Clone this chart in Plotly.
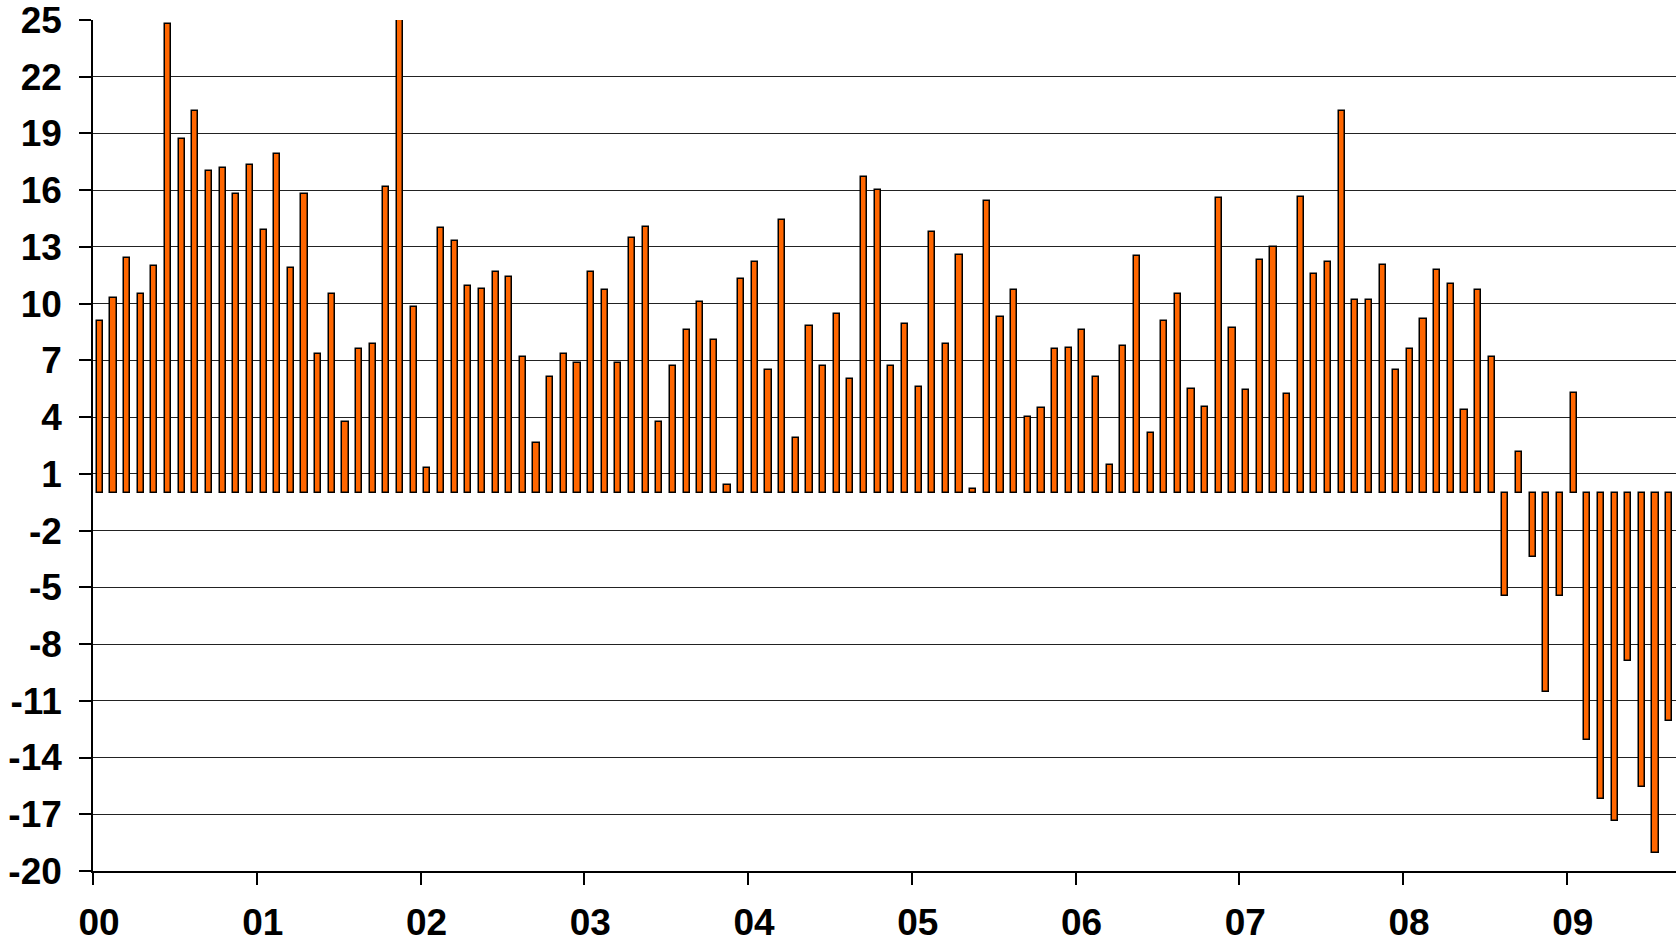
import plotly.graph_objects as go

# Year labels shown under the category axis (each year = 12 monthly bars)
years = ["00", "01", "02", "03", "04", "05", "06", "07", "08", "09"]

# Y-axis tick values and their labels (hyphen-minus, as in the reference)
y_ticks = [25, 22, 19, 16, 13, 10, 7, 4, 1, -2, -5, -8, -11, -14, -17, -20]
y_tick_labels = ["25", "22", "19", "16", "13", "10", "7", "4", "1",
                 "-2", "-5", "-8", "-11", "-14", "-17", "-20"]

# Monthly values, Jan 2000 .. Aug 2009
values_2000 = [9.1, 10.3, 12.4, 10.5, 12.0, 24.8, 18.7, 20.2, 17.0, 17.2, 15.8, 17.35]
values_2001 = [13.9, 17.9, 11.9, 15.8, 7.35, 10.5, 3.75, 7.6, 7.85, 16.15, 25.26, 9.85]
values_2002 = [1.3, 14.0, 13.3, 10.95, 10.8, 11.7, 11.4, 7.2, 2.65, 6.1, 7.35, 6.85]
values_2003 = [11.7, 10.7, 6.85, 13.45, 14.05, 3.75, 6.7, 8.6, 10.1, 8.1, 0.4, 11.3]
values_2004 = [12.2, 6.5, 14.4, 2.9, 8.8, 6.7, 9.45, 6.0, 16.7, 16.0, 6.7, 8.95]
values_2005 = [5.6, 13.8, 7.85, 12.55, 0.2, 15.45, 9.3, 10.7, 4.0, 4.5, 7.6, 7.65]
values_2006 = [8.6, 6.1, 1.45, 7.75, 12.5, 3.15, 9.1, 10.5, 5.5, 4.55, 15.6, 8.7]
values_2007 = [5.45, 12.3, 13.0, 5.2, 15.65, 11.55, 12.2, 20.2, 10.2, 10.2, 12.05, 6.5]
values_2008 = [7.6, 9.2, 11.8, 11.05, 4.4, 10.7, 7.2, -5.45, 2.15, -3.4, -10.55, -5.45]
values_2009 = [5.25, -13.05, -16.2, -17.35, -8.9, -15.55, -19.05, -12.05]

values = (values_2000 + values_2001 + values_2002 + values_2003 + values_2004
          + values_2005 + values_2006 + values_2007 + values_2008 + values_2009)

months_per_year = 12
x_index = list(range(len(values)))
year_ticks = [months_per_year * i - 0.5 for i in range(len(years))]

fig = go.Figure()
fig.add_trace(go.Bar(
    x=x_index,
    y=values,
    width=0.45,
    marker=dict(color="#FF6600", line=dict(color="#000000", width=1.5)),
    cliponaxis=False,
    hoverinfo="y",
))

tick_font = dict(family="Liberation Sans, Arial, sans-serif", size=37, color="#000000", weight="bold")

fig.update_layout(
    width=1676,
    height=944,
    margin=dict(l=93, r=0, t=20, b=73, pad=0),
    paper_bgcolor="#FFFFFF",
    plot_bgcolor="#FFFFFF",
    showlegend=False,
    bargap=0,
    xaxis=dict(
        automargin=False,
        range=[-0.5, len(values) - 0.5],
        tickmode="array",
        tickvals=year_ticks,
        ticktext=years,
        ticks="outside",
        ticklen=12,
        tickwidth=1.5,
        tickcolor="#000000",
        showline=True,
        linecolor="#000000",
        linewidth=1.5,
        showgrid=False,
        zeroline=False,
        tickfont=tick_font,
        ticklabelshift=6,
        ticklabelstandoff=6,
        ticklabeloverflow="allow",
    ),
    yaxis=dict(
        automargin=False,
        range=[-20, 25],
        tickmode="array",
        tickvals=y_ticks,
        ticktext=y_tick_labels,
        ticks="outside",
        ticklen=12,
        tickwidth=1.5,
        tickcolor="#000000",
        showline=True,
        linecolor="#000000",
        linewidth=1.5,
        showgrid=True,
        gridcolor="#222222",
        gridwidth=1,
        zeroline=False,
        tickfont=tick_font,
        ticklabelstandoff=10,
        ticklabeloverflow="allow",
    ),
)

fig.write_html(
    "out.html",
    config={"displayModeBar": False},
    post_script="document.body.style.margin='0';document.body.style.overflow='hidden';",
)
